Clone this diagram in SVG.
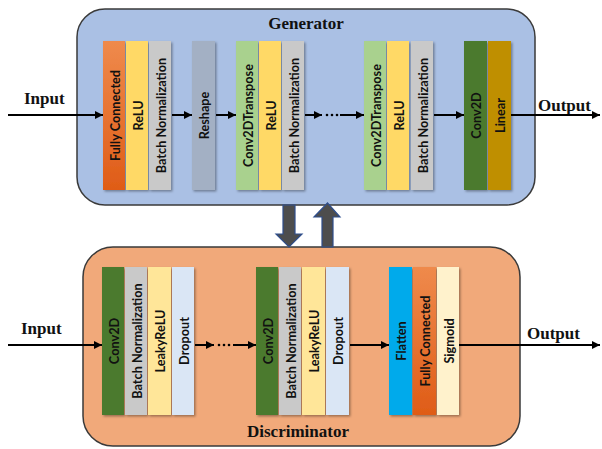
<svg xmlns="http://www.w3.org/2000/svg" width="602" height="449" viewBox="0 0 602 449">
<defs>
<style>
.panel{stroke:#3a3a3a;stroke-width:1.5}
.blk{filter:url(#sh)}
.lbl{font-family:Lato,"Liberation Sans",sans-serif;font-size:12.7px;font-weight:bold;fill:#111;text-anchor:middle;dominant-baseline:central}
.title{font-family:"Liberation Serif","Times New Roman",serif;font-size:17px;font-weight:bold;fill:#111}
.io{font-family:"Liberation Serif","Times New Roman",serif;font-size:17px;font-weight:bold;fill:#111}
.ln{stroke:#000;stroke-width:2;fill:none;marker-end:url(#ah)}
.dot{fill:#000}
.big{fill:#4d4d4d;stroke:#2f4e8c;stroke-width:1.2}
</style>
<marker id="ah" viewBox="0 0 10 10" refX="10" refY="5" markerWidth="9" markerHeight="8" markerUnits="userSpaceOnUse" orient="auto">
<path d="M0,0 L10,5 L0,10 z" fill="#000"/>
</marker>
<filter id="sh" x="-20%" y="-5%" width="150%" height="115%">
<feDropShadow dx="1.5" dy="1.5" stdDeviation="1" flood-color="#000" flood-opacity="0.35"/>
</filter>
<linearGradient id="fc" x1="0" y1="0" x2="0" y2="1">
<stop offset="0" stop-color="#ef8a4c"/>
<stop offset="1" stop-color="#df5c17"/>
</linearGradient>
</defs>

<g id="generator">
<rect class="panel" x="77" y="9" width="458" height="196" rx="28" fill="#aac0e4"/>
<text class="title" x="306" y="29" text-anchor="middle">Generator</text>
</g>
<g id="discriminator">
<rect class="panel" x="83" y="247" width="437" height="199" rx="30" fill="#f1a97a"/>
<text class="title" x="298" y="437" text-anchor="middle">Discriminator</text>
</g>

<g id="g-fc1"><rect class="blk" x="103" y="41" width="22" height="149" fill="url(#fc)"/><text class="lbl" transform="translate(115,115.5) rotate(-90)">Fully Connected</text></g>
<g id="g-relu1"><rect class="blk" x="126" y="41" width="22" height="149" fill="#ffd966"/><text class="lbl" transform="translate(138,115.5) rotate(-90)">ReLU</text></g>
<g id="g-bn1"><rect class="blk" x="149" y="41" width="22" height="149" fill="#c9c9c9"/><text class="lbl" transform="translate(161,115.5) rotate(-90)">Batch Normalization</text></g>
<g id="g-reshape"><rect class="blk" x="192" y="41" width="23" height="149" fill="#a3b0c4"/><text class="lbl" transform="translate(204,115.5) rotate(-90)">Reshape</text></g>
<g id="g-ct1"><rect class="blk" x="236" y="41" width="22" height="149" fill="#a9d18e"/><text class="lbl" transform="translate(248,115.5) rotate(-90)">Conv2DTranspose</text></g>
<g id="g-relu2"><rect class="blk" x="259" y="41" width="22" height="149" fill="#ffd966"/><text class="lbl" transform="translate(271,115.5) rotate(-90)">ReLU</text></g>
<g id="g-bn2"><rect class="blk" x="282" y="41" width="22" height="149" fill="#c9c9c9"/><text class="lbl" transform="translate(294,115.5) rotate(-90)">Batch Normalization</text></g>
<g id="g-ct2"><rect class="blk" x="364" y="41" width="22" height="149" fill="#a9d18e"/><text class="lbl" transform="translate(376,115.5) rotate(-90)">Conv2DTranspose</text></g>
<g id="g-relu3"><rect class="blk" x="387" y="41" width="22" height="149" fill="#ffd966"/><text class="lbl" transform="translate(399,115.5) rotate(-90)">ReLU</text></g>
<g id="g-bn3"><rect class="blk" x="411" y="41" width="22" height="149" fill="#c9c9c9"/><text class="lbl" transform="translate(423,115.5) rotate(-90)">Batch Normalization</text></g>
<g id="g-conv"><rect class="blk" x="464" y="41" width="23" height="149" fill="#4b7a2e"/><text class="lbl" transform="translate(476,115.5) rotate(-90)">Conv2D</text></g>
<g id="g-linear"><rect class="blk" x="488" y="41" width="23" height="149" fill="#bf8f00"/><text class="lbl" transform="translate(500,115.5) rotate(-90)">Linear</text></g>

<g id="d-conv1"><rect class="blk" x="102" y="267" width="22" height="148" fill="#4b7a2e"/><text class="lbl" transform="translate(114,341) rotate(-90)">Conv2D</text></g>
<g id="d-bn1"><rect class="blk" x="125" y="267" width="22" height="148" fill="#c9c9c9"/><text class="lbl" transform="translate(137,341) rotate(-90)">Batch Normalization</text></g>
<g id="d-lrelu1"><rect class="blk" x="148" y="267" width="23" height="148" fill="#ffe699"/><text class="lbl" transform="translate(160,341) rotate(-90)">LeakyReLU</text></g>
<g id="d-drop1"><rect class="blk" x="172" y="267" width="22" height="148" fill="#dae6f5"/><text class="lbl" transform="translate(184,341) rotate(-90)">Dropout</text></g>
<g id="d-conv2"><rect class="blk" x="256" y="267" width="22" height="148" fill="#4b7a2e"/><text class="lbl" transform="translate(268,341) rotate(-90)">Conv2D</text></g>
<g id="d-bn2"><rect class="blk" x="279" y="267" width="22" height="148" fill="#c9c9c9"/><text class="lbl" transform="translate(291,341) rotate(-90)">Batch Normalization</text></g>
<g id="d-lrelu2"><rect class="blk" x="302" y="267" width="23" height="148" fill="#ffe699"/><text class="lbl" transform="translate(314,341) rotate(-90)">LeakyReLU</text></g>
<g id="d-drop2"><rect class="blk" x="326" y="267" width="23" height="148" fill="#dae6f5"/><text class="lbl" transform="translate(338,341) rotate(-90)">Dropout</text></g>
<g id="d-flatten"><rect class="blk" x="389" y="267" width="23" height="148" fill="#04aaeb"/><text class="lbl" transform="translate(401,341) rotate(-90)">Flatten</text></g>
<g id="d-fc"><rect class="blk" x="413" y="267" width="23" height="148" fill="url(#fc)"/><text class="lbl" transform="translate(425,341) rotate(-90)">Fully Connected</text></g>
<g id="d-sigmoid"><rect class="blk" x="437" y="267" width="22" height="148" fill="#fff2cc"/><text class="lbl" transform="translate(449,341) rotate(-90)">Sigmoid</text></g>

<g id="labels">
<text class="io" x="24" y="104">Input</text>
<text class="io" x="538" y="111">Output</text>
<text class="io" x="21" y="334">Input</text>
<text class="io" x="527" y="339">Output</text>
</g>

<g id="connectors">
<line class="ln" x1="8" y1="115" x2="103" y2="115"/>
<line class="ln" x1="172" y1="115" x2="192" y2="115"/>
<line class="ln" x1="216" y1="115" x2="236" y2="115"/>
<line class="ln" x1="305" y1="115" x2="322" y2="115"/>
<circle class="dot" cx="327" cy="115" r="1.3"/><circle class="dot" cx="332" cy="115" r="1.3"/><circle class="dot" cx="337" cy="115" r="1.3"/>
<line class="ln" x1="340" y1="115" x2="364" y2="115"/>
<line class="ln" x1="434" y1="115" x2="464" y2="115"/>
<line class="ln" x1="511" y1="115" x2="600" y2="115"/>

<line class="ln" x1="8" y1="345" x2="102" y2="345"/>
<line class="ln" x1="195" y1="345" x2="214" y2="345"/>
<circle class="dot" cx="219" cy="345" r="1.3"/><circle class="dot" cx="224" cy="345" r="1.3"/><circle class="dot" cx="229" cy="345" r="1.3"/>
<line class="ln" x1="233" y1="345" x2="256" y2="345"/>
<line class="ln" x1="350" y1="345" x2="389" y2="345"/>
<line class="ln" x1="459" y1="345" x2="600" y2="345"/>

<path class="big" d="M283,205 L295,205 L295,234 L302,234 L289,247 L276,234 L283,234 Z"/>
<path class="big" d="M322,247 L322,217 L314,217 L327.5,203 L340,217 L333,217 L333,247 Z"/>
</g>
</svg>
